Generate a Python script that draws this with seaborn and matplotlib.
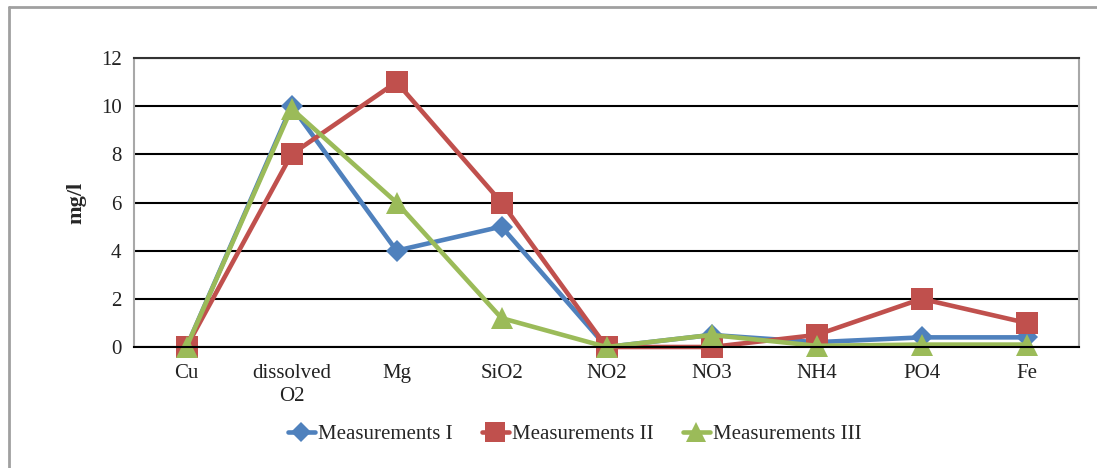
import matplotlib
matplotlib.use("Agg")
import matplotlib.pyplot as plt
from matplotlib.lines import Line2D
import seaborn as sns
import pandas as pd

categories = ["Cu", "dissolved\nO2", "Mg", "SiO2", "NO2", "NO3", "NH4", "PO4", "Fe"]
measurements_1 = [0, 10, 4, 5, 0, 0.5, 0.2, 0.4, 0.4]
measurements_2 = [0, 8, 11, 6, 0, 0, 0.5, 2, 1]
measurements_3 = [0, 9.9, 6, 1.2, 0, 0.5, 0.05, 0.1, 0.1]
series_names = ["Measurements I", "Measurements II", "Measurements III"]
y_ticks = [0, 2, 4, 6, 8, 10, 12]

sns.set_theme(style="white")
plt.rcParams["font.family"] = ["Liberation Serif", "DejaVu Serif"]

fig = plt.figure(figsize=(10.97, 4.68), dpi=100)
ax = fig.add_axes([134 / 1097, 1 - 347 / 468, (1079 - 134) / 1097, (347 - 58) / 468])

styles = [
    (measurements_1, "#4F81BD", "D", 11),
    (measurements_2, "#C0504D", "s", 16),
    (measurements_3, "#9BBB59", "^", 16),
]
x_pos = list(range(len(categories)))
for name, (vals, color, marker, ms) in zip(series_names, styles):
    df = pd.DataFrame({"x": x_pos, "y": vals})
    sns.lineplot(data=df, x="x", y="y", ax=ax, color=color, linewidth=3.3,
                 marker=marker, markersize=ms, markeredgewidth=0,
                 label=name, sort=False)
for line in ax.lines:
    line.set_clip_on(False)

ax.set_xlim(-0.5, len(categories) - 0.5)
ax.set_ylim(0, 12)
ax.set_xticks(x_pos)
ax.set_xticklabels(categories, fontsize=15, color="#222222", linespacing=1.3)
ax.set_yticks(y_ticks)
ax.set_yticklabels([str(t) for t in y_ticks], fontsize=15, color="#222222")
ax.tick_params(axis="x", length=0, pad=12)
ax.tick_params(axis="y", length=0, pad=9)
ax.set_xlabel("")
ax.set_ylabel("mg/l", fontsize=16, fontweight="bold", labelpad=10)

ax.yaxis.grid(True, color="black", linewidth=1.5)
ax.set_axisbelow(True)
for side in ["left", "right"]:
    ax.spines[side].set_color("#a8a8a8")
    ax.spines[side].set_linewidth(1.5)
ax.spines["top"].set_color("#333333")
ax.spines["top"].set_linewidth(1.5)
ax.spines["bottom"].set_color("black")
ax.spines["bottom"].set_linewidth(1.5)

handles, labels = ax.get_legend_handles_labels()
ax.legend(handles, labels, loc="center", bbox_to_anchor=(0.524, 0.072),
          bbox_transform=fig.transFigure, ncol=3, frameon=False,
          fontsize=15, handlelength=1.3, handletextpad=0.15,
          columnspacing=1.4, markerscale=0.9)

# outer chart frame (left and top edges)
fig.add_artist(Line2D([9 / 1097, 9 / 1097], [0, 1 - 7 / 468],
                      transform=fig.transFigure, color="#a0a0a0", linewidth=2))
fig.add_artist(Line2D([9 / 1097, 1], [1 - 7 / 468, 1 - 7 / 468],
                      transform=fig.transFigure, color="#a0a0a0", linewidth=2))

fig.savefig("out.png", dpi=100, facecolor="white")
